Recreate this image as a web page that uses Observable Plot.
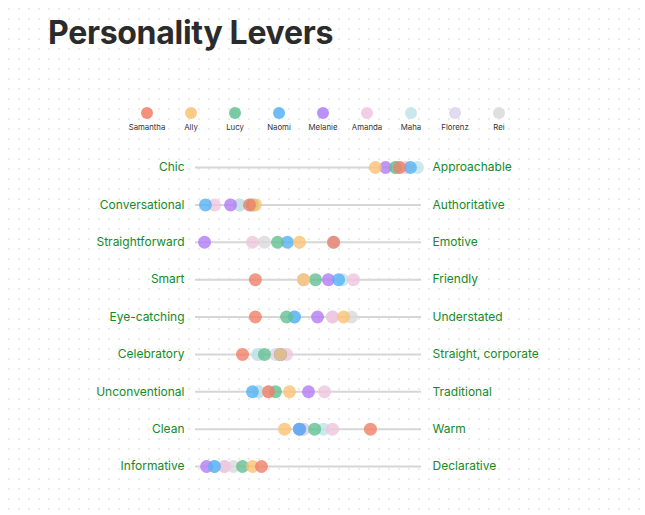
<!DOCTYPE html>
<html>
<head>
<meta charset="utf-8">
<script src="https://cdn.jsdelivr.net/npm/d3@7"></script>
<script src="https://cdn.jsdelivr.net/npm/@observablehq/plot@0.6"></script>
<style>
  html, body { margin: 0; padding: 0; }
  body {
    width: 645px; height: 515px; position: relative; overflow: hidden;
    font-family: Inter, "Noto Sans", sans-serif;
    background-color: #fff;
    background-image: radial-gradient(circle, #dedede 0.6px, transparent 0.9px);
    background-size: 10px 10px;
    background-position: 4px 4px;
  }
  #title {
    position: absolute; left: 48px; top: 16px;
    font-size: 32px; line-height: 33px; font-weight: 700; color: #2b2b2b;
    letter-spacing: -0.3px;
  }
  #legend {
    position: absolute; left: 125px; top: 107px; display: flex;
  }
  .item { width: 44px; display: flex; flex-direction: column; align-items: center; }
  .sw { width: 12px; height: 12px; border-radius: 50%; }
  .lab { font-size: 7.8px; color: #333; margin-top: 3px; white-space: nowrap; }
  #chart { position: absolute; left: 0; top: 138px; }
</style>
</head>
<body>
<div id="title">Personality Levers</div>
<div id="legend"></div>
<div id="chart"></div>
<script>
const people = ["Samantha", "Ally", "Lucy", "Naomi", "Melanie", "Amanda", "Maha", "Florenz", "Rei"];
const colors = ["#f07f66", "#fbc274", "#62c094", "#56b1f5", "#b27cf4", "#efc5df", "#bfe3ea", "#dcd4ee", "#d9d9d9"];
const leftLabels = ["Chic", "Conversational", "Straightforward", "Smart", "Eye-catching", "Celebratory", "Unconventional", "Clean", "Informative"];
const rightLabels = ["Approachable", "Authoritative", "Emotive", "Friendly", "Understated", "Straight, corporate", "Traditional", "Warm", "Declarative"];

// values per person, one per row (0 = left pole, 100 = right pole)
const samantha = [90.3, 23.9, 61.1, 26.5, 26.5, 20.8, 32.3, 77.4, 29.2];
const ally     = [79.6, 26.5, 46.0, 47.8, 65.5, 37.6, 41.6, 39.4, 25.2];
const lucy     = [88.5, 25.1, 36.3, 53.1, 40.3, 30.5, 35.4, 52.7, 20.8];
const naomi    = [95.1,  4.4, 40.7, 63.3, 43.8, 37.6, 25.2, 46.0,  8.4];
const melanie  = [84.1, 15.5,  4.0, 58.8, 54.0, 37.6, 50.0, 46.0,  4.9];
const amanda   = [93.0,  8.4, 25.2, 69.9, 60.6, 40.3, 57.1, 60.6, 12.8];
const maha     = [98.2, 19.5, 61.1, 65.0, 43.8, 27.4, 27.9, 56.6,  8.4];
const florenz  = [90.3, 25.7, 61.1, 47.8, 60.6, 35.4, 32.3, 47.8, 12.8];
const rei      = [88.5, 19.5, 30.5, 47.8, 69.0, 27.9, 27.9, 47.8, 16.8];

const series = [samantha, ally, lucy, naomi, melanie, amanda, maha, florenz, rei];
const data = [];
// drawn from last person to first, so Samantha sits on top
for (let i = people.length - 1; i >= 0; i--) {
  leftLabels.forEach((row, j) => data.push({person: people[i], row, value: series[i][j]}));
}
const rows = leftLabels.map(l => ({row: l}));

// legend
const legend = document.getElementById("legend");
people.forEach((p, i) => {
  const it = document.createElement("div"); it.className = "item";
  const sw = document.createElement("div"); sw.className = "sw"; sw.style.background = colors[i]; sw.style.opacity = 0.85;
  const lb = document.createElement("div"); lb.className = "lab"; lb.textContent = p;
  it.append(sw, lb); legend.append(it);
});

const green = "#158a28";
const chart = Plot.plot({
  width: 645, height: 345,
  marginLeft: 195, marginRight: 224, marginTop: 29, marginBottom: 17,
  style: {fontFamily: "Inter, 'Noto Sans', sans-serif", background: "transparent"},
  x: {domain: [0, 100], axis: null},
  y: {domain: leftLabels, type: "point", padding: 0, round: false},
  color: {domain: people, range: colors},
  marks: [
    Plot.ruleY(rows, {y: "row", x1: 0, x2: 100, stroke: "#d6d6d6", strokeWidth: 2}),
    Plot.dot(data, {x: "value", y: "row", fill: "person", r: 6.5, fillOpacity: 0.8}),
    Plot.axisY({anchor: "left", tickSize: 0, tickPadding: 11, fontSize: 12, fill: green, label: null}),
    Plot.axisY({anchor: "right", tickSize: 0, tickPadding: 11, fontSize: 12, fill: green, label: null,
      tickFormat: d => rightLabels[leftLabels.indexOf(d)]})
  ]
});
chart.querySelectorAll("g[aria-label='y-axis tick label'] text").forEach(t => t.setAttribute("fill", green));
document.getElementById("chart").append(chart);
</script>
</body>
</html>
